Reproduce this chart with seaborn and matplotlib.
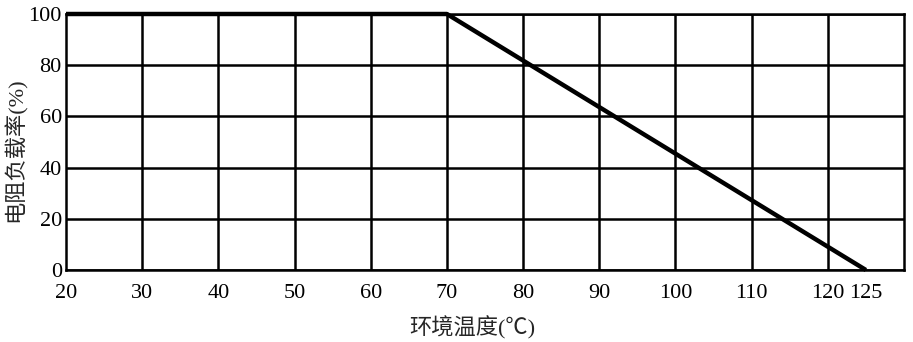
import matplotlib
matplotlib.use("Agg")
import matplotlib.pyplot as plt
import seaborn as sns
import pandas as pd

temps = [20, 70, 125]
load = [100, 100, 0]
xticks = [20, 30, 40, 50, 60, 70, 80, 90, 100, 110, 120, 125]
ygrid = [0, 20, 40, 60, 80, 100]
vgrid = [30, 40, 50, 60, 70, 80, 90, 100, 110, 120]

sns.set_theme(style="white")
plt.rcParams['font.family'] = ['Liberation Serif', 'Noto Sans CJK SC']

fig = plt.figure(figsize=(9.13, 3.42), dpi=100)
ax = fig.add_axes([66/913, 72/342, (904-66)/913, (270-14)/342])

for v in vgrid:
    ax.axvline(v, color='black', lw=1.8, zorder=1)
for h in ygrid:
    ax.axhline(h, color='black', lw=1.8, zorder=1)

df = pd.DataFrame({"t": temps, "p": load})
sns.lineplot(data=df, x="t", y="p", ax=ax, color='black', lw=3.2, zorder=3,
             solid_capstyle='butt', clip_on=False)

ax.set_xlim(20, 130)
ax.set_ylim(0, 100)
ax.set_xticks(xticks)
ax.set_xticklabels([str(v) for v in xticks])
ax.set_yticks(ygrid)
ax.tick_params(axis='both', length=0, labelsize=16, colors='black')
ax.tick_params(axis='x', pad=10)
ax.tick_params(axis='y', pad=3)
for s in ax.spines.values():
    s.set_color('black')
    s.set_linewidth(1.8)

ax.set_xlabel("环境温度(℃)", fontsize=16, family=['Liberation Serif', 'Noto Sans CJK SC'])
ax.set_ylabel("电阻负载率(%)", fontsize=16, family=['Liberation Serif', 'Noto Sans CJK SC'],
              va='center')
ax.xaxis.set_label_coords(0.485, -0.18)
ax.yaxis.set_label_coords(-0.061, 0.47)

fig.savefig("out.png", dpi=100)
